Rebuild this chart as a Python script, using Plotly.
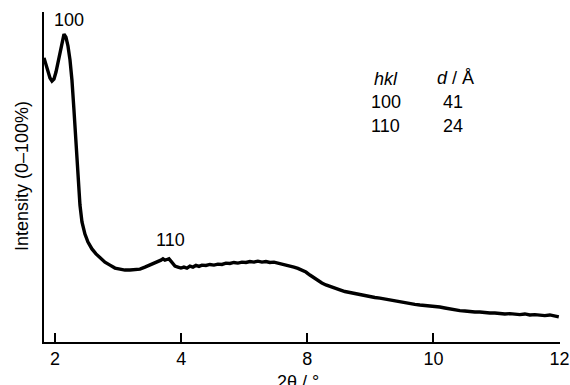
import plotly.graph_objects as go

# Axis position (tick slots) and intensity (% of full scale)
two_theta = [1.826, 1.857, 1.889, 1.921, 1.952, 1.984, 2.016, 2.048, 2.079, 2.111,
             2.143, 2.174, 2.206, 2.238, 2.269, 2.301, 2.333, 2.365, 2.396, 2.428,
             2.475, 2.523, 2.586, 2.650, 2.713, 2.792, 2.872, 2.951, 3.030, 3.109,
             3.189, 3.268, 3.347, 3.426, 3.506, 3.585, 3.632, 3.680, 3.712, 3.743,
             3.775, 3.807, 3.838, 3.870, 3.902, 3.949, 3.997, 4.044, 4.092, 4.139,
             4.187, 4.235, 4.282, 4.330, 4.393, 4.456, 4.520, 4.583, 4.647, 4.710,
             4.773, 4.837, 4.900, 4.964, 5.027, 5.090, 5.154, 5.217, 5.281, 5.344,
             5.407, 5.471, 5.534, 5.597, 5.661, 5.724, 5.788, 5.851, 5.914, 5.978,
             6.041, 6.105, 6.168, 6.231, 6.295, 6.358, 6.437, 6.517, 6.596, 6.675,
             6.754, 6.834, 6.913, 6.992, 7.071, 7.151, 7.230, 7.309, 7.388, 7.468,
             7.547, 7.626, 7.705, 7.785, 7.864, 7.943, 8.022, 8.101, 8.181, 8.260,
             8.339, 8.418, 8.498, 8.577, 8.656, 8.735, 8.815, 8.894, 8.973, 9.052,
             9.132, 9.211, 9.290, 9.369, 9.449, 9.528, 9.607, 9.686, 9.765, 9.845,
             9.924, 9.987]
intensity = [86.1, 84.2, 82.1, 80.0, 79.1, 79.7, 81.8, 84.8, 88.5, 91.5,
             93.3, 92.4, 89.7, 85.5, 79.4, 70.3, 59.7, 49.7, 41.5, 36.4,
             32.7, 30.3, 28.2, 26.7, 25.5, 24.2, 23.3, 22.4, 22.1, 21.8,
             21.8, 22.0, 22.1, 22.7, 23.3, 23.9, 24.5, 24.8, 25.2, 24.8,
             25.0, 25.2, 24.5, 23.6, 23.0, 22.7, 22.4, 22.7, 22.4, 23.0,
             22.7, 23.2, 22.9, 23.3, 23.2, 23.5, 23.3, 23.6, 23.5, 23.9,
             23.8, 24.1, 23.9, 24.2, 24.1, 24.4, 24.2, 24.5, 24.2, 24.4,
             24.1, 24.2, 23.9, 23.8, 23.5, 23.0, 22.7, 22.3, 21.8, 21.2,
             20.3, 19.4, 18.6, 17.9, 17.3, 16.8, 16.2, 15.8, 15.3, 15.0,
             14.7, 14.2, 14.1, 13.6, 13.5, 13.3, 13.0, 12.9, 12.6, 12.3,
             12.0, 11.5, 11.4, 11.2, 11.1, 10.9, 10.9, 10.6, 10.3, 10.0,
             9.8, 9.5, 9.4, 9.2, 9.1, 9.1, 8.9, 8.8, 8.8, 8.6,
             8.5, 8.6, 8.5, 8.3, 8.5, 8.2, 8.3, 8.2, 8.0, 8.2,
             7.9, 7.6]

tick_vals = [2, 4, 6, 8, 10]
tick_text = ["2", "4", "8", "10", "12"]

hkl = ["100", "110"]
d_spacing = ["41", "24"]

FONT = "Liberation Sans, Arial, Helvetica, sans-serif"
FS = 18

W, H = 570, 385
L, R, T, B = 44, 10, 12, 43
PW, PH = W - L - R, H - T - B


def px(x):
    return (x - L) / PW


def py(y):
    return (H - B - y) / PH


fig = go.Figure()
fig.add_trace(go.Scatter(x=two_theta, y=intensity, mode="lines",
                         line=dict(color="black", width=3.4),
                         hoverinfo="skip", showlegend=False))

ann = []
def txt(s, x, y):
    ann.append(dict(text=s, x=px(x), y=py(y), xref="paper", yref="paper",
                    showarrow=False, xanchor="center", yanchor="middle",
                    font=dict(family=FONT, size=FS, color="black")))

txt("100", 69, 20)
txt(hkl[1], 170, 240)
txt("<i>hkl</i>", 386, 79)
txt("<i>d</i> / Å", 455, 78)
txt(hkl[0], 385.5, 102)
txt(d_spacing[0], 453, 102)
txt(hkl[1], 385.5, 126)
txt(d_spacing[1], 453, 126)

# axis titles
ann.append(dict(text="Intensity (0–100%)", x=px(22), y=py(176), xref="paper", yref="paper",
                showarrow=False, textangle=-90, xanchor="center", yanchor="middle",
                font=dict(family=FONT, size=FS, color="black")))
ann.append(dict(text="2θ / °", x=px(298), y=py(370), xref="paper", yref="paper",
                showarrow=False, xanchor="center", yanchor="top",
                font=dict(family=FONT, size=FS, color="black")))

fig.update_layout(
    template="none",
    width=W, height=H,
    margin=dict(l=L, r=R, t=T, b=B, pad=0, autoexpand=False),
    paper_bgcolor="white", plot_bgcolor="white",
    font=dict(family=FONT, size=FS, color="black"),
    annotations=ann,
    xaxis=dict(range=[1.826, 10.006], tickvals=tick_vals, ticktext=tick_text,
               ticks="inside", ticklen=9, tickwidth=1.6, tickcolor="black",
               showline=True, linecolor="black", linewidth=1.6,
               showgrid=False, zeroline=False, automargin=False,
               tickfont=dict(family=FONT, size=FS, color="black")),
    yaxis=dict(range=[0, 100], showticklabels=False, ticks="",
               showline=True, linecolor="black", linewidth=1.6,
               showgrid=False, zeroline=False, automargin=False),
)

fig.write_html(
    "out.html",
    config={"displayModeBar": False},
    post_script=(
        "var s=document.documentElement.style;s.margin='0';s.padding='0';s.overflow='hidden';"
        "var b=document.body.style;b.margin='0';b.padding='0';b.overflow='hidden';"
    ),
)
